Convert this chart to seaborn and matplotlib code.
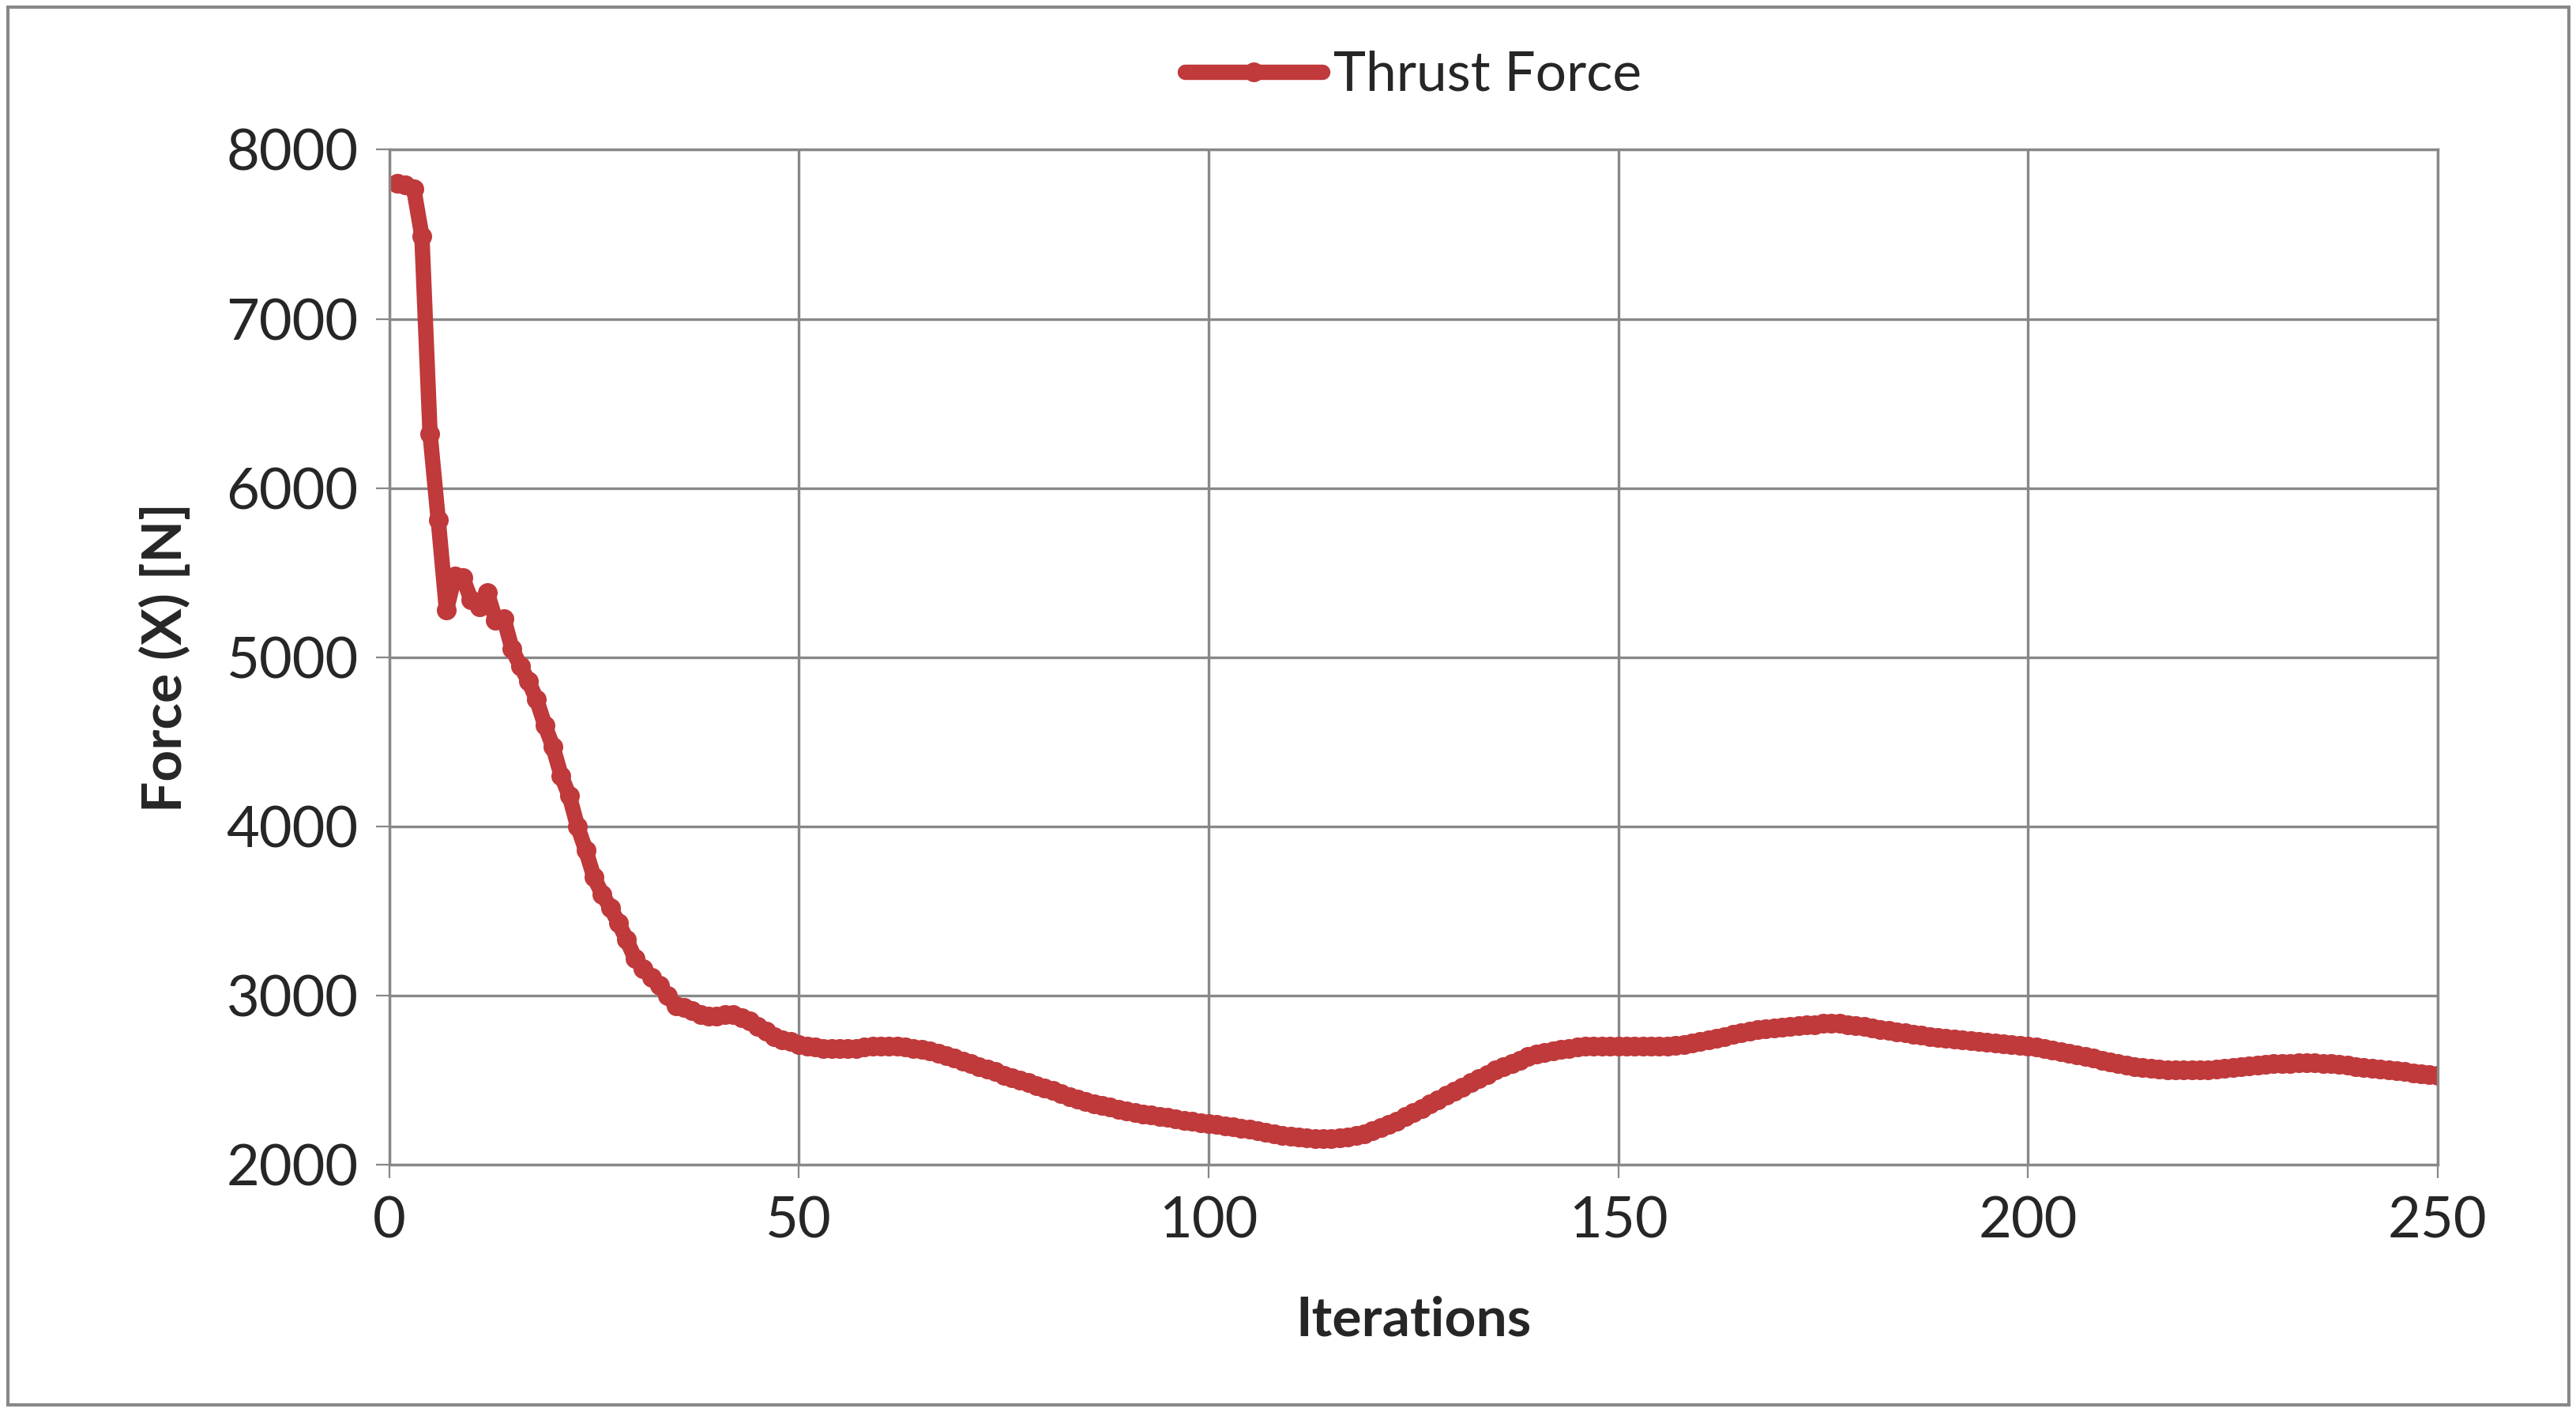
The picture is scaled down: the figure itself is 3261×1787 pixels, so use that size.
import numpy as np
import pandas as pd
import seaborn as sns
import matplotlib.pyplot as plt
from matplotlib.patches import Rectangle

# thrust force per iteration
force_1_50 = [7800, 7790, 7770, 7490, 6320, 5810, 5280, 5480, 5470, 5340,
              5300, 5380, 5220, 5230, 5050, 4950, 4860, 4750, 4600, 4470,
              4300, 4180, 4000, 3860, 3700, 3600, 3520, 3430, 3330, 3220,
              3160, 3110, 3060, 3000, 2940, 2930, 2910, 2890, 2880, 2880,
              2890, 2890, 2870, 2850, 2820, 2790, 2760, 2740, 2730, 2710]
force_51_250 = [2700, 2695, 2690, 2690, 2690, 2690, 2690, 2695, 2700, 2700,
                2700, 2700, 2695, 2690, 2685, 2675, 2660, 2645, 2630, 2615,
                2600, 2580, 2565, 2550, 2530, 2515, 2500, 2485, 2470, 2455,
                2440, 2420, 2405, 2390, 2375, 2360, 2350, 2340, 2330, 2320,
                2310, 2300, 2295, 2285, 2280, 2270, 2265, 2260, 2250, 2245,
                2240, 2230, 2225, 2215, 2210, 2200, 2195, 2185, 2175, 2170,
                2165, 2160, 2155, 2155, 2155, 2160, 2165, 2175, 2185, 2200,
                2220, 2240, 2260, 2285, 2310, 2335, 2360, 2385, 2410, 2435,
                2460, 2485, 2510, 2535, 2560, 2580, 2600, 2620, 2640, 2655,
                2665, 2675, 2685, 2690, 2695, 2700, 2700, 2700, 2700, 2700,
                2700, 2700, 2700, 2700, 2700, 2700, 2705, 2710, 2720, 2730,
                2740, 2750, 2760, 2770, 2780, 2790, 2800, 2805, 2810, 2815,
                2820, 2825, 2830, 2830, 2835, 2835, 2835, 2830, 2825, 2820,
                2810, 2800, 2795, 2785, 2780, 2770, 2765, 2760, 2755, 2750,
                2745, 2740, 2735, 2730, 2725, 2720, 2715, 2710, 2705, 2700,
                2695, 2690, 2680, 2670, 2660, 2650, 2640, 2630, 2620, 2610,
                2600, 2590, 2580, 2575, 2570, 2565, 2560, 2560, 2560, 2560,
                2560, 2560, 2565, 2570, 2575, 2580, 2585, 2590, 2595, 2600,
                2600, 2600, 2605, 2605, 2605, 2600, 2600, 2595, 2590, 2580,
                2575, 2570, 2565, 2560, 2555, 2550, 2545, 2540, 2535, 2530]
iterations = list(range(1, 251))
df = pd.DataFrame({"Iterations": iterations, "Force": force_1_50 + force_51_250})

sns.set_style("white")
plt.rcParams['font.family'] = ['Lato', 'DejaVu Sans']

fig = plt.figure(figsize=(16.31, 8.935), dpi=200)
ax = fig.add_axes([0.151, 0.175, 0.795, 0.719])
sns.lineplot(data=df, x="Iterations", y="Force", ax=ax, color="#C0393B",
             linewidth=7, marker="o", markersize=9, markeredgewidth=0,
             label="Thrust Force")

ax.set_xlim(0, 250)
ax.set_ylim(2000, 8000)
ax.set_xticks(range(0, 251, 50))
ax.set_yticks(range(2000, 8001, 1000))
ax.grid(True, color="#888888", linewidth=1.2)
for s in ax.spines.values():
    s.set_color("#888888")
    s.set_linewidth(1.2)
ax.tick_params(labelsize=26, length=6, color="#888888", direction="out",
               bottom=True, left=True, pad=8)
ax.set_xlabel("Iterations", fontsize=25, fontweight="bold", labelpad=22)
ax.set_ylabel("Force (X) [N]", fontsize=25, fontweight="bold", labelpad=16)
ax.legend(loc="lower center", bbox_to_anchor=(0.5, 1.0), frameon=False,
          fontsize=25, handlelength=2.5, handletextpad=0.2)

fig.patches.append(Rectangle((0.003, 0.005), 0.994, 0.99, transform=fig.transFigure,
                             fill=False, edgecolor="#888888", linewidth=1.5))
fig.savefig("out.png", dpi=200)
